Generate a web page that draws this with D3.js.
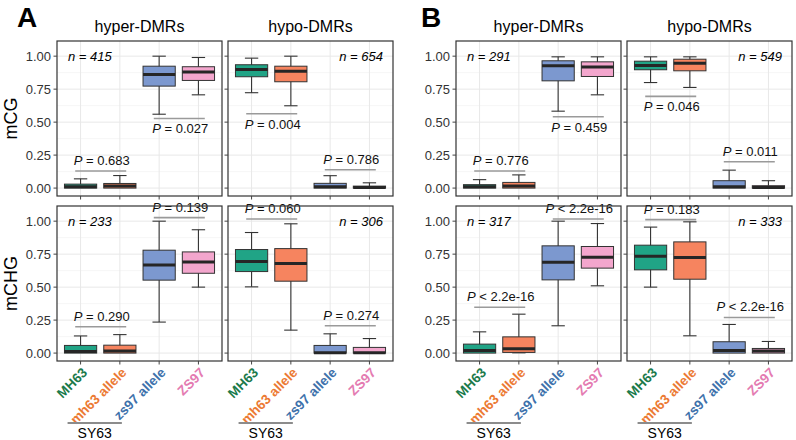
<!DOCTYPE html>
<html>
<head>
<meta charset="utf-8">
<script src="https://cdn.jsdelivr.net/npm/d3@7"></script>
<style>
  body { margin: 0; background: #fff; }
  svg { display: block; font-family: "Liberation Sans", Arial, sans-serif; }
  .grid-major { stroke: #e8e8e8; stroke-width: 1; }
  .grid-minor { stroke: #f2f2f2; stroke-width: 0.7; }
  .frame { fill: none; stroke: #333; stroke-width: 1.2; }
  .tick { stroke: #444; stroke-width: 1; }
</style>
</head>
<body>
<svg width="796" height="440"></svg>
<script>
const groups = ["MH63", "mh63 allele", "zs97 allele", "ZS97"];
const dmrTypes = ["hyper-DMRs", "hypo-DMRs"];
const contexts = ["mCG", "mCHG"];
const yTicks = [0, 0.25, 0.5, 0.75, 1];

// box stats per group: [lower whisker, q1, median, q3, upper whisker]
const aCgHyper = [[0, 0, 0.01, 0.03, 0.07], [0, 0, 0.015, 0.035, 0.095], [0.56, 0.773, 0.861, 0.924, 1.0], [0.707, 0.816, 0.88, 0.92, 0.99]];
const aCgHypo = [[0.723, 0.844, 0.899, 0.935, 0.985], [0.624, 0.806, 0.886, 0.924, 1.0], [0, 0, 0.01, 0.036, 0.094], [0, 0, 0.005, 0.015, 0.04]];
const aChgHyper = [[0, 0, 0.012, 0.058, 0.13], [0, 0, 0.015, 0.06, 0.14], [0.235, 0.553, 0.667, 0.78, 1.0], [0.5, 0.605, 0.69, 0.767, 0.935]];
const aChgHypo = [[0.502, 0.618, 0.694, 0.785, 0.914], [0.174, 0.545, 0.68, 0.792, 0.98], [0, 0, 0.003, 0.058, 0.146], [0, 0, 0.003, 0.043, 0.11]];
const bCgHyper = [[0, 0, 0.01, 0.026, 0.064], [0, 0, 0.015, 0.043, 0.10], [0.583, 0.813, 0.927, 0.965, 0.995], [0.707, 0.846, 0.917, 0.957, 0.995]];
const bCgHypo = [[0.80, 0.897, 0.93, 0.962, 0.995], [0.763, 0.889, 0.947, 0.977, 0.995], [0, 0, 0.01, 0.056, 0.136], [0, 0, 0.005, 0.018, 0.056]];
const bChgHyper = [[0, 0, 0.02, 0.068, 0.161], [0.002, 0.005, 0.033, 0.123, 0.295], [0.207, 0.555, 0.689, 0.813, 1.0], [0.51, 0.644, 0.727, 0.808, 0.982]];
const bChgHypo = [[0.5, 0.631, 0.735, 0.818, 0.955], [0.131, 0.56, 0.724, 0.843, 0.995], [0, 0, 0.02, 0.086, 0.217], [0, 0, 0.015, 0.035, 0.088]];

// region counts, order: mCG hyper, mCG hypo, mCHG hyper, mCHG hypo
const nA = [415, 654, 233, 306];
const nB = [291, 549, 317, 333];

// comparison brackets: [bracket level, test result]; first pair MH63 vs mh63, second zs97 vs ZS97
const pA = [
  [[0.129, "= 0.683"], [0.528, "= 0.027"]],
  [[0.563, "= 0.004"], [0.139, "= 0.786"]],
  [[0.2, "= 0.290"], [1.027, "= 0.139"]],
  [[1.017, "= 0.060"], [0.207, "= 0.274"]]
];
const pB = [
  [[0.129, "= 0.776"], [0.541, "= 0.459"]],
  [[0.695, "= 0.046"], [0.2, "= 0.011"]],
  [[0.348, "< 2.2e-16"], [1.017, "< 2.2e-16"]],
  [[1.012, "= 0.183"], [0.27, "< 2.2e-16"]]
];

const fills = d3.scaleOrdinal().domain(groups).range(["#20a486", "#f6845f", "#7c98cf", "#f3a6cd"]);
const labelColors = d3.scaleOrdinal().domain(groups).range(["#1b7a4b", "#ec7a34", "#3d71ab", "#e47bb1"]);

const figures = [
  { letter: "A", letterX: 17, left: 57, stats: [aCgHyper, aCgHypo, aChgHyper, aChgHypo], n: nA, p: pA },
  { letter: "B", letterX: 421, left: 456, stats: [bCgHyper, bCgHypo, bChgHyper, bChgHypo], n: nB, p: pB }
];

const rows = [{ top: 41, bottom: 196 }, { top: 206, bottom: 361 }];
const panelW = 165, gapX = 6;

const svg = d3.select("svg");

figures.forEach(function(fig) {
  svg.append("text")
    .attr("x", fig.letterX)
    .attr("y", 27)
    .attr("font-size", 28)
    .attr("font-weight", "bold")
    .text(fig.letter);

  rows.forEach(function(row, r) {
    const y = d3.scaleLinear().domain([-0.06, 1.115]).range([row.bottom, row.top]);
    const minor = d3.range(0.125, 1.01, 0.25);

    if (fig.letter === "A") {
      svg.append("text")
        .attr("transform", "translate(17," + ((row.top + row.bottom) / 2) + ") rotate(-90)")
        .attr("text-anchor", "middle")
        .attr("font-size", 18)
        .text(contexts[r]);
    }

    dmrTypes.forEach(function(type, c) {
      const idx = r * 2 + c;
      const x0 = fig.left + c * (panelW + gapX);
      const x = d3.scalePoint().domain(groups).range([x0, x0 + panelW]).padding(0.6);
      const step = x.step();
      const g = svg.append("g");

      g.append("rect").attr("x", x0).attr("y", row.top).attr("width", panelW)
        .attr("height", row.bottom - row.top).attr("fill", "#fff");

      g.selectAll(".gm").data(minor).enter().append("line").attr("class", "grid-minor")
        .attr("x1", x0).attr("x2", x0 + panelW).attr("y1", y).attr("y2", y);
      g.selectAll(".gy").data(yTicks).enter().append("line").attr("class", "grid-major")
        .attr("x1", x0).attr("x2", x0 + panelW).attr("y1", y).attr("y2", y);
      g.selectAll(".gx").data(groups).enter().append("line").attr("class", "grid-major")
        .attr("x1", x).attr("x2", x).attr("y1", row.top).attr("y2", row.bottom);

      if (r === 0) {
        svg.append("text")
          .attr("x", x0 + panelW / 2).attr("y", 32)
          .attr("text-anchor", "middle").attr("font-size", 16)
          .text(type);
      }

      // boxes
      const stats = fig.stats[idx];
      const bw = step * 0.82, cap = step * 0.34;
      const box = g.selectAll(".box").data(stats).enter().append("g")
        .attr("transform", (d, i) => "translate(" + x(groups[i]) + ",0)");
      box.append("line").attr("x1", 0).attr("x2", 0)
        .attr("y1", d => y(d[4])).attr("y2", d => y(d[0]))
        .attr("stroke", "#333").attr("stroke-width", 1.1);
      box.append("line").attr("x1", -cap / 2).attr("x2", cap / 2)
        .attr("y1", d => y(d[4])).attr("y2", d => y(d[4]))
        .attr("stroke", "#333").attr("stroke-width", 1.1);
      box.append("line").attr("x1", -cap / 2).attr("x2", cap / 2)
        .attr("y1", d => y(d[0])).attr("y2", d => y(d[0]))
        .attr("stroke", "#333").attr("stroke-width", 1.1)
        .attr("display", d => d[0] === d[1] ? "none" : null);
      box.append("rect").attr("x", -bw / 2).attr("width", bw)
        .attr("y", d => y(d[3])).attr("height", d => Math.max(y(d[1]) - y(d[3]), 1))
        .attr("fill", (d, i) => fills(groups[i]))
        .attr("stroke", "#333").attr("stroke-width", 1);
      box.append("line").attr("x1", -bw / 2).attr("x2", bw / 2)
        .attr("y1", d => y(d[2])).attr("y2", d => y(d[2]))
        .attr("stroke", "#262626").attr("stroke-width", 3);

      // significance brackets
      fig.p[idx].forEach(function(pr, k) {
        const a = x(groups[k * 2]), b = x(groups[k * 2 + 1]);
        const mid = (a + b) / 2;
        const below = pr[0] < Math.min(stats[k * 2][0], stats[k * 2 + 1][0]);
        g.append("line").attr("x1", mid - 25).attr("x2", mid + 26)
          .attr("y1", y(pr[0])).attr("y2", y(pr[0]))
          .attr("stroke", "#9a9a9a").attr("stroke-width", 1.6);
        const t = g.append("text")
          .attr("x", mid + 1.5)
          .attr("y", y(pr[0]) + (below ? 15 : -6))
          .attr("text-anchor", "middle").attr("font-size", 13).attr("fill", "#111");
        t.append("tspan").attr("font-style", "italic").text("P");
        t.append("tspan").text(" " + pr[1]);
      });

      // n label
      g.append("text")
        .attr("x", c === 0 ? x0 + 11 : x0 + panelW - 10)
        .attr("y", y(1) + 4.5)
        .attr("text-anchor", c === 0 ? "start" : "end")
        .attr("font-size", 13).attr("font-style", "italic")
        .text("n = " + fig.n[idx]);

      g.append("rect").attr("class", "frame").attr("x", x0).attr("y", row.top)
        .attr("width", panelW).attr("height", row.bottom - row.top);

      // ticks
      g.selectAll(".ty").data(yTicks).enter().append("line").attr("class", "tick")
        .attr("x1", x0 - 3.5).attr("x2", x0).attr("y1", y).attr("y2", y);
      g.selectAll(".tx").data(groups).enter().append("line").attr("class", "tick")
        .attr("x1", x).attr("x2", x).attr("y1", row.bottom).attr("y2", row.bottom + 3.5);

      if (c === 0) {
        g.selectAll(".ly").data(yTicks).enter().append("text")
          .attr("x", x0 - 6).attr("y", d => y(d) + 4.5)
          .attr("text-anchor", "end").attr("font-size", 13).attr("fill", "#333")
          .text(d3.format(".2f"));
      }

      if (r === 1) {
        g.selectAll(".lx").data(groups).enter().append("text")
          .attr("transform", d => "translate(" + (x(d) + 7.5) + "," + (row.bottom + 12.5) + ") rotate(-45)")
          .attr("text-anchor", "end").attr("font-size", 13.5).attr("font-weight", "bold")
          .attr("fill", d => labelColors(d))
          .text(d => d);

        const s0 = x(groups[0]) - 13, s1 = x(groups[1]) + 2;
        g.append("line").attr("x1", s0).attr("x2", s1).attr("y1", 423).attr("y2", 423)
          .attr("stroke", "#8c8c8c").attr("stroke-width", 2);
        g.append("text").attr("x", (s0 + s1) / 2).attr("y", 438)
          .attr("text-anchor", "middle").attr("font-size", 14).text("SY63");
      }
    });
  });
});
</script>
</body>
</html>
